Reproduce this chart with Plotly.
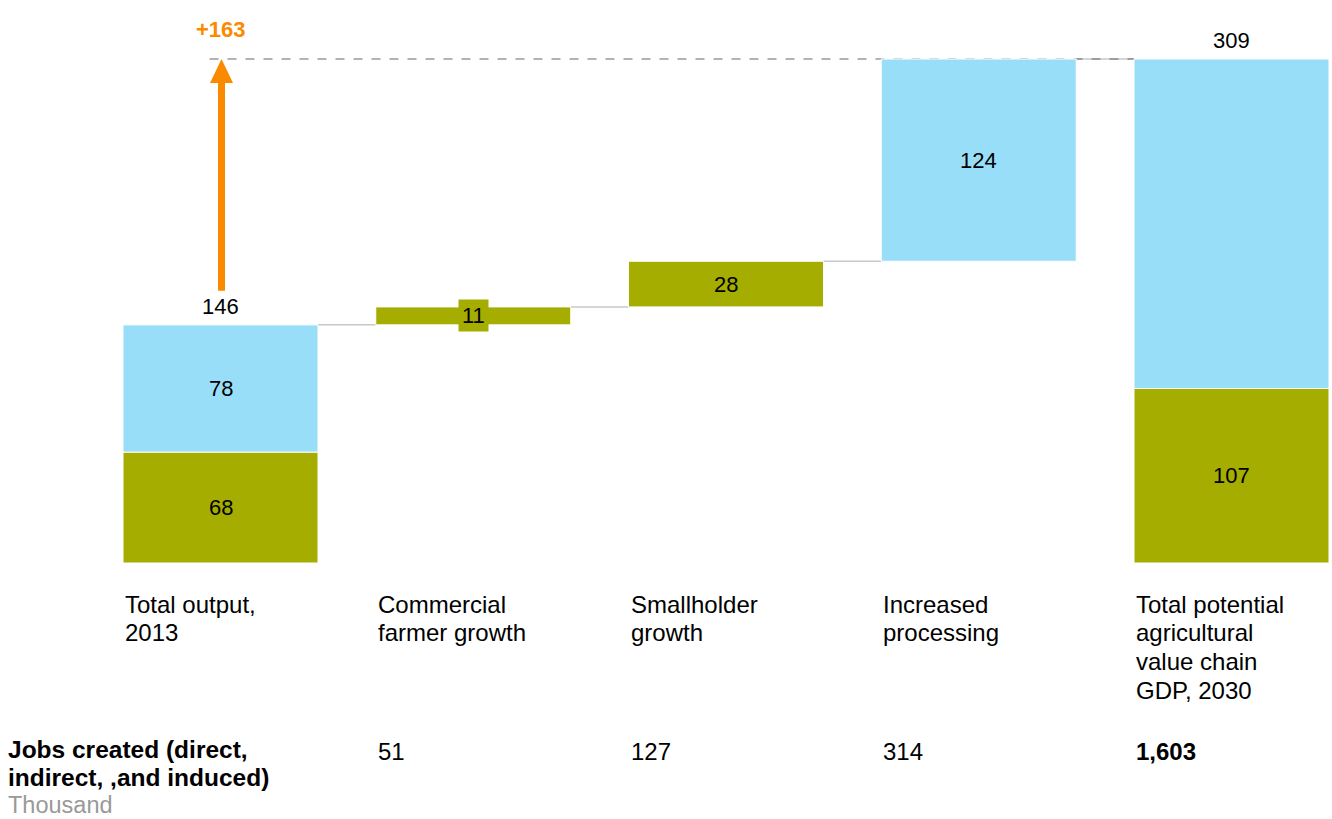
import plotly.graph_objects as go

# ---------------- data ----------------
categories = [["Total output,", "2013"], ["Commercial", "farmer growth"], ["Smallholder", "growth"],
              ["Increased", "processing"], ["Total potential", "agricultural", "value chain", "GDP, 2030"]]
start_values = [68, 78]          # olive, blue segments of 2013 total
step_values = [11, 28, 124]      # increments
step_series = ["olive", "olive", "blue"]
end_values = [107, 202]          # olive, blue segments of 2030 total
jobs_labels = ["51", "127", "314", "1,603"]
jobs_title = ["Jobs created (direct,", "indirect, ,and induced)"]
jobs_unit = "Thousand"

OLIVE = "#A5AD00"
BLUE = "#99DEF8"
ORANGE = "#FA8A00"
FONT = "Arial, Liberation Sans, sans-serif"

W, H = 1332, 819
# pixel geometry
X0_PX, STEP_PX = 220.5, 252.75
Y0_PX, PX_PER_UNIT = 563, 504 / 309
BAR_W = 195 / STEP_PX

x_range = [-X0_PX / STEP_PX, (W - X0_PX) / STEP_PX]
y_range = [-(H - Y0_PX) / PX_PER_UNIT, Y0_PX / PX_PER_UNIT]

def dx(px):
    return px / STEP_PX

def dy(px):
    return px / PX_PER_UNIT

def py(screen_y):
    return 1 - screen_y / H

# ---------------- compute stack ----------------
n = len(categories)
xs = list(range(n))
olive_y = [None] * n; olive_b = [None] * n
blue_y = [None] * n; blue_b = [None] * n

olive_y[0], olive_b[0] = start_values[0], 0
blue_y[0], blue_b[0] = start_values[1], start_values[0]
start_total = sum(start_values)

levels = [start_total]
cur = start_total
for i, (v, s) in enumerate(zip(step_values, step_series)):
    idx = i + 1
    if s == "olive":
        olive_y[idx], olive_b[idx] = v, cur
    else:
        blue_y[idx], blue_b[idx] = v, cur
    cur += v
    levels.append(cur)
end_total = sum(end_values)
olive_y[-1], olive_b[-1] = end_values[0], 0
blue_y[-1], blue_b[-1] = end_values[1], end_values[0]

fig = go.Figure()
fig.add_trace(go.Bar(x=xs, y=olive_y, base=olive_b, width=BAR_W, marker_color=OLIVE,
                     marker_line=dict(color="white", width=1), hoverinfo="skip"))
fig.add_trace(go.Bar(x=xs, y=blue_y, base=blue_b, width=BAR_W, marker_color=BLUE,
                     marker_line=dict(color="white", width=1), hoverinfo="skip"))

ann = []
tf = dict(family=FONT, size=22, color="#000000")
tl = dict(family=FONT, size=24, color="#000000")

# segment labels
for i in range(n):
    if olive_y[i] is not None:
        small = olive_y[i] < dy(26)
        ann.append(dict(x=i, y=olive_b[i] + olive_y[i] / 2, text=str(olive_y[i]), showarrow=False,
                        font=tf, bgcolor=OLIVE if small else None, borderpad=3 if small else 1))
    if blue_y[i] is not None and i != n - 1:
        ann.append(dict(x=i, y=blue_b[i] + blue_y[i] / 2, text=str(blue_y[i]), showarrow=False, font=tf))

# totals
ann.append(dict(x=0, y=start_total, yshift=18, text=str(start_total), showarrow=False, font=tf))
ann.append(dict(x=n - 1, y=end_total, yshift=19, text=str(end_total), showarrow=False, font=tf))
ann.append(dict(x=0, y=end_total, yshift=30, text="<b>+%d</b>" % (end_total - start_total),
                showarrow=False, font=dict(family=FONT, size=22, color=ORANGE)))

# category labels (one annotation per line for tight line spacing)
LINE = 28.7
for i, lines in enumerate(categories):
    for k, line in enumerate(lines):
        ann.append(dict(x=i - BAR_W / 2, y=py(604 + k * LINE), yref="paper", xanchor="left",
                        yanchor="middle", align="left", text=line, showarrow=False, font=tl))

# jobs row
JL = 27.5
for k, line in enumerate(jobs_title):
    ann.append(dict(x=0, xref="paper", xshift=6, y=py(749.5 + k * JL), yref="paper", xanchor="left",
                    yanchor="middle", align="left", showarrow=False,
                    font=dict(family=FONT, size=24.5, color="#000000"), text="<b>%s</b>" % line))
ann.append(dict(x=0, xref="paper", xshift=6, y=py(805), yref="paper", xanchor="left",
                yanchor="middle", align="left", showarrow=False,
                font=dict(family=FONT, size=23.5, color="#999999"), text=jobs_unit))
for i, j in enumerate(jobs_labels):
    idx = i + 1
    txt = "<b>%s</b>" % j if idx == n - 1 else j
    ann.append(dict(x=idx - BAR_W / 2, y=py(751), yref="paper", xanchor="left", yanchor="middle",
                    align="left", text=txt, showarrow=False, font=tl))

shapes = []
# connectors
for i, lv in enumerate(levels):
    shapes.append(dict(type="line", x0=i + BAR_W / 2, x1=i + 1 - BAR_W / 2, y0=lv, y1=lv,
                       line=dict(color="#C8C8C8", width=1.5), layer="below"))
# dashed line at end total
shapes.append(dict(type="line", x0=dx(-11), x1=n - 1 - BAR_W / 2, y0=end_total, y1=end_total,
                   line=dict(color="#666666", width=1, dash="dash"), layer="below"))
# arrow
ax = dx(1)
head_h = dy(24)
shapes.append(dict(type="rect", x0=ax - dx(3.5), x1=ax + dx(3.5), y0=start_total + dy(34),
                   y1=end_total - head_h + dy(1), fillcolor=ORANGE, line=dict(width=0)))
shapes.append(dict(type="path",
                   path="M %f %f L %f %f L %f %f Z" % (ax - dx(11.5), end_total - head_h,
                                                       ax + dx(11.5), end_total - head_h,
                                                       ax, end_total),
                   fillcolor=ORANGE, line=dict(width=0)))

fig.update_layout(
    width=W, height=H, margin=dict(l=0, r=0, t=0, b=0),
    barmode="overlay", showlegend=False,
    plot_bgcolor="white", paper_bgcolor="white",
    xaxis=dict(range=x_range, visible=False, fixedrange=True),
    yaxis=dict(range=y_range, visible=False, fixedrange=True),
    annotations=ann, shapes=shapes, font=dict(family=FONT),
)
fig.write_html("out.html", config={"displayModeBar": False},
               post_script="document.body.style.margin='0';document.body.style.overflow='hidden';")
